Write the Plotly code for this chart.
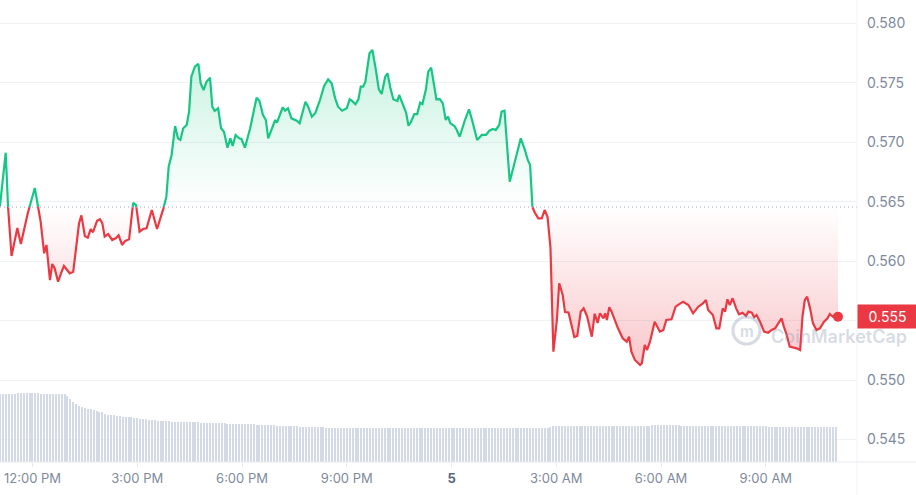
import numpy as np
import pandas as pd
import plotly.graph_objects as go

# ---------------- data ----------------
day4_date = "2024-06-04"
day5_date = "2024-06-05"

day4_times = [
    "11:04", "11:14", "11:18", "11:24", "11:34", "11:40", "11:52", "12:04", "12:14", "12:20",
    "12:24", "12:30", "12:34", "12:38", "12:44", "12:49", "12:54", "13:04", "13:10", "13:20",
    "13:24", "13:30", "13:35", "13:40", "13:44", "13:51", "13:56", "14:00", "14:04", "14:10",
    "14:17", "14:23", "14:28", "14:34", "14:39", "14:46", "14:53", "14:58", "15:04", "15:10",
    "15:16", "15:25", "15:34", "15:45", "15:50", "15:54", "15:59", "16:05", "16:10", "16:14",
    "16:19", "16:25", "16:29", "16:33", "16:39", "16:45", "16:49", "16:54", "16:59", "17:05",
    "17:09", "17:13", "17:19", "17:24", "17:29", "17:35", "17:40", "17:44", "17:49", "17:55",
    "17:59", "18:05", "18:14", "18:25", "18:30", "18:36", "18:41", "18:45", "18:51", "18:57",
    "19:00", "19:10", "19:14", "19:19", "19:25", "19:34", "19:39", "19:49", "19:53", "20:00",
    "20:06", "20:14", "20:21", "20:28", "20:34", "20:40", "20:45", "20:52", "21:00", "21:05",
    "21:09", "21:15", "21:20", "21:24", "21:28", "21:32", "21:39", "21:44", "21:50", "21:55",
    "22:00", "22:06", "22:10", "22:15", "22:20", "22:27", "22:30", "22:37", "22:42", "22:46",
    "22:50", "22:56", "23:01", "23:06", "23:10", "23:16", "23:20", "23:25", "23:29", "23:34",
    "23:40", "23:45", "23:50", "23:54", "23:58",
]
day4_prices = [
    0.56460, 0.56912, 0.56458, 0.56043, 0.56279, 0.56144, 0.56405, 0.56615, 0.56332, 0.56066,
    0.56136, 0.55841, 0.55976, 0.55940, 0.55827, 0.55898, 0.55959, 0.55898, 0.55911, 0.56318,
    0.56385, 0.56211, 0.56197, 0.56270, 0.56243, 0.56340, 0.56352, 0.56318, 0.56206, 0.56228,
    0.56178, 0.56192, 0.56217, 0.56136, 0.56169, 0.56184, 0.56491, 0.56472, 0.56248, 0.56270,
    0.56276, 0.56430, 0.56270, 0.56444, 0.56542, 0.56794, 0.56893, 0.57136, 0.57033, 0.57019,
    0.57117, 0.57145, 0.57257, 0.57551, 0.57635, 0.57658, 0.57495, 0.57439, 0.57509, 0.57543,
    0.57299, 0.57263, 0.57285, 0.57117, 0.57088, 0.56954, 0.57033, 0.56968, 0.57061, 0.57033,
    0.57027, 0.56954, 0.57117, 0.57374, 0.57347, 0.57229, 0.57187, 0.57033, 0.57117, 0.57187,
    0.57164, 0.57294, 0.57265, 0.57285, 0.57201, 0.57181, 0.57159, 0.57341, 0.57305, 0.57215,
    0.57246, 0.57355, 0.57473, 0.57529, 0.57495, 0.57369, 0.57299, 0.57265, 0.57285, 0.57361,
    0.57347, 0.57319, 0.57361, 0.57467, 0.57467, 0.57509, 0.57748, 0.57775, 0.57607, 0.57445,
    0.57406, 0.57551, 0.57580, 0.57453, 0.57361, 0.57347, 0.57397, 0.57299, 0.57248, 0.57139,
    0.57168, 0.57237, 0.57237, 0.57332, 0.57321, 0.57445, 0.57593, 0.57627, 0.57523, 0.57361,
    0.57363, 0.57327, 0.57187, 0.57215, 0.57159,
]

day5_times = [
    "00:05", "00:09", "00:14", "00:23", "00:30", "00:36", "00:44", "00:52", "00:59", "01:05",
    "01:11", "01:16", "01:22", "01:26", "01:31", "01:40", "01:50", "01:59", "02:06", "02:11",
    "02:15", "02:19", "02:23", "02:29", "02:35", "02:40", "02:45", "02:50", "02:52", "02:55",
    "03:01", "03:05", "03:11", "03:15", "03:21", "03:26", "03:31", "03:36", "03:42", "03:47",
    "03:53", "04:01", "04:06", "04:11", "04:15", "04:21", "04:24", "04:27", "04:31", "04:35",
    "04:41", "04:46", "04:54", "05:01", "05:05", "05:09", "05:15", "05:24", "05:27", "05:32",
    "05:36", "05:41", "05:49", "05:58", "06:04", "06:09", "06:18", "06:25", "06:32", "06:38",
    "06:47", "06:55", "07:04", "07:12", "07:17", "07:21", "07:29", "07:35", "07:40", "07:46",
    "07:50", "07:54", "07:58", "08:03", "08:09", "08:14", "08:20", "08:26", "08:30", "08:36",
    "08:40", "08:44", "08:50", "08:57", "09:04", "09:10", "09:16", "09:21", "09:27", "09:31",
    "09:36", "09:41", "09:47", "09:53", "09:59", "10:03", "10:07", "10:11", "10:16", "10:21",
    "10:27", "10:33", "10:40", "10:46", "10:50", "10:55", "10:59", "11:04",
]
day5_prices = [
    0.57136, 0.57103, 0.57046, 0.57187, 0.57277, 0.57173, 0.57019, 0.57061, 0.57061, 0.57097,
    0.57111, 0.57103, 0.57145, 0.57257, 0.57265, 0.56668, 0.56851, 0.57033, 0.56935, 0.56851,
    0.56808, 0.56455, 0.56409, 0.56360, 0.56360, 0.56430, 0.56371, 0.56111, 0.55757, 0.55239,
    0.55505, 0.55814, 0.55715, 0.55572, 0.55568, 0.55477, 0.55362, 0.55371, 0.55575, 0.55603,
    0.55535, 0.55365, 0.55558, 0.55480, 0.55561, 0.55519, 0.55561, 0.55505, 0.55612, 0.55575,
    0.55491, 0.55435, 0.55351, 0.55323, 0.55365, 0.55239, 0.55169, 0.55127, 0.55141, 0.55295,
    0.55253, 0.55323, 0.55491, 0.55407, 0.55421, 0.55505, 0.55511, 0.55617, 0.55640, 0.55659,
    0.55631, 0.55561, 0.55617, 0.55645, 0.55673, 0.55589, 0.55547, 0.55435, 0.55435, 0.55603,
    0.55575, 0.55679, 0.55631, 0.55688, 0.55603, 0.55553, 0.55566, 0.55539, 0.55575, 0.55566,
    0.55528, 0.55547, 0.55491, 0.55407, 0.55398, 0.55421, 0.55435, 0.55477, 0.55519, 0.55449,
    0.55379, 0.55281, 0.55275, 0.55267, 0.55253, 0.55533, 0.55673, 0.55701, 0.55603, 0.55477,
    0.55421, 0.55435, 0.55491, 0.55519, 0.55556, 0.55533, 0.55547, 0.55533,
]

baseline_price = 0.56455          # price 24h ago (dotted reference line)
last_price_label = "0.555"

# 24h rolling volume (millions USD), one bar every 5 minutes from 11:05
volume_start = "2024-06-04 11:05"
volume_step_minutes = 5
volume_24h = [
    102.6, 102.6, 102.6, 102.6, 102.6, 102.6, 104.0, 104.0, 104.0, 104.0, 104.0, 104.0,
    104.0, 104.0, 102.6, 102.6, 102.6, 102.6, 102.6, 102.6, 102.6, 102.6, 102.6, 100.5,
    95.4, 91.4, 87.9, 85.3, 83.8, 82.3, 80.3, 79.8, 78.3, 76.8, 75.8, 75.3,
    72.7, 71.7, 70.7, 70.7, 70.2, 69.2, 68.7, 68.2, 67.7, 67.7, 66.7, 66.2,
    65.2, 65.2, 64.6, 63.6, 63.1, 63.1, 62.1, 61.5, 61.5, 61.5, 61.5, 61.0,
    61.0, 61.0, 60.5, 60.5, 60.5, 60.0, 60.0, 60.0, 60.0, 59.5, 59.5, 59.0,
    59.0, 59.0, 59.0, 58.5, 58.5, 58.5, 58.0, 58.0, 58.0, 58.0, 58.0, 57.5,
    57.5, 57.0, 57.0, 57.0, 56.5, 56.5, 56.0, 56.0, 56.0, 55.5, 55.5, 55.0,
    55.0, 54.5, 54.5, 54.5, 54.0, 54.0, 54.0, 53.5, 53.5, 53.5, 53.0, 53.0,
    53.0, 52.5, 52.5, 52.5, 52.0, 52.0, 52.0, 52.0, 51.5, 51.5, 51.5, 51.5,
    51.5, 51.0, 51.0, 51.0, 51.0, 51.0, 51.0, 51.0, 51.0, 51.0, 51.0, 51.0,
    51.0, 51.0, 51.0, 51.0, 51.0, 51.0, 51.0, 51.0, 51.0, 51.0, 51.0, 51.0,
    51.0, 51.0, 51.0, 51.0, 51.0, 51.0, 51.0, 51.0, 51.0, 51.0, 51.0, 51.0,
    51.0, 51.0, 51.0, 51.0, 51.0, 51.0, 51.0, 51.0, 51.0, 51.0, 51.0, 51.0,
    51.0, 51.0, 51.0, 51.0, 51.0, 51.0, 51.0, 51.0, 51.0, 51.0, 51.0, 51.0,
    51.0, 51.0, 51.0, 51.0, 51.0, 51.0, 51.0, 51.0, 52.0, 53.0, 54.0, 54.5,
    54.5, 54.5, 54.5, 54.5, 54.5, 54.5, 54.5, 54.5, 54.5, 54.5, 54.5, 54.5,
    54.5, 54.5, 54.5, 54.5, 54.5, 54.5, 54.5, 54.5, 54.5, 54.5, 54.5, 54.5,
    54.5, 54.5, 54.5, 54.5, 54.5, 54.5, 54.5, 54.5, 56.0, 56.0, 56.0, 56.0,
    56.0, 56.0, 56.0, 56.0, 56.0, 56.0, 55.0, 55.0, 55.0, 55.0, 55.0, 55.0,
    55.0, 55.0, 55.0, 55.0, 55.0, 55.0, 55.0, 55.0, 55.0, 55.0, 55.0, 55.0,
    55.0, 55.0, 55.0, 55.0, 55.0, 55.0, 54.5, 54.5, 54.5, 54.5, 54.5, 54.5,
    52.5, 52.5, 52.5, 52.5, 52.5, 52.5, 52.5, 52.5, 52.5, 52.5, 52.5, 52.5,
    52.5, 52.5, 52.5, 52.5, 52.5, 52.5, 52.5, 52.5, 52.5, 52.5, 52.5, 52.5,
]

x_tick_vals = ["2024-06-04 12:00", "2024-06-04 15:00", "2024-06-04 18:00", "2024-06-04 21:00",
               "2024-06-05 00:00", "2024-06-05 03:00", "2024-06-05 06:00", "2024-06-05 09:00"]
x_tick_text = ["12:00 PM", "3:00 PM", "6:00 PM", "9:00 PM",
               "<span style='color:#58667e'><b>5</b></span>", "3:00 AM", "6:00 AM", "9:00 AM"]
y_tick_vals = [0.545, 0.550, 0.555, 0.560, 0.565, 0.570, 0.575, 0.580]
# the 0.555 label sits under the live-price tag in the original, so it is left blank
y_tick_text = ["0.545", "0.550", "", "0.560", "0.565", "0.570", "0.575", "0.580"]

# ---------------- styling ----------------
GREEN = "#16c784"
RED = "#ea3943"
AXIS_TXT = "#808a9d"
GRID = "#eff2f5"
FONT = "Inter"
WATERMARK = "rgba(140,152,178,0.35)"

W, H = 916, 495
ML, MR, MT, MB = 0, 59, 0, 33
PW, PH = W - ML - MR, H - MT - MB

# ---------------- build series ----------------
t = pd.to_datetime([f"{day4_date} {s}" for s in day4_times] +
                   [f"{day5_date} {s}" for s in day5_times])
p = np.array(day4_prices + day5_prices)

# split line into above/below-baseline pieces at the crossing points
xs = [t[0]]
ys = [p[0]]
for i in range(1, len(p)):
    d0 = p[i - 1] - baseline_price
    d1 = p[i] - baseline_price
    if d0 * d1 < 0:
        f = d0 / (d0 - d1)
        xs.append(t[i - 1] + (t[i] - t[i - 1]) * f)
        ys.append(baseline_price)
    xs.append(t[i])
    ys.append(p[i])
ys = np.array(ys)
up_fill = np.maximum(ys, baseline_price)
dn_fill = np.minimum(ys, baseline_price)
green_line = [y if y >= baseline_price else None for y in ys]
red_line = [y if y <= baseline_price else None for y in ys]
base_arr = [baseline_price] * len(xs)

vol_t = pd.date_range(volume_start, periods=len(volume_24h), freq=f"{volume_step_minutes}min")

fig = go.Figure()

# volume bars (own hidden axis)
fig.add_trace(go.Bar(
    x=vol_t, y=volume_24h, yaxis="y2",
    marker=dict(color="#d3d9e5", line=dict(width=0)),
    width=105000, hoverinfo="skip", showlegend=False,
))

# green area
fig.add_trace(go.Scatter(x=xs, y=base_arr, mode="lines", line=dict(width=0),
                         hoverinfo="skip", showlegend=False))
fig.add_trace(go.Scatter(
    x=xs, y=up_fill, mode="lines", line=dict(width=0), fill="tonexty",
    fillgradient=dict(type="vertical", start=baseline_price, stop=float(p.max()),
                      colorscale=[[0, "rgba(22,199,132,0.0)"], [1, "rgba(22,199,132,0.24)"]]),
    hoverinfo="skip", showlegend=False))

# red area
fig.add_trace(go.Scatter(x=xs, y=base_arr, mode="lines", line=dict(width=0),
                         hoverinfo="skip", showlegend=False))
fig.add_trace(go.Scatter(
    x=xs, y=dn_fill, mode="lines", line=dict(width=0), fill="tonexty",
    fillgradient=dict(type="vertical", start=float(p.min()), stop=baseline_price,
                      colorscale=[[0, "rgba(234,57,67,0.28)"], [1, "rgba(234,57,67,0.0)"]]),
    hoverinfo="skip", showlegend=False))

# price lines
fig.add_trace(go.Scatter(x=xs, y=green_line, mode="lines",
                         line=dict(color=GREEN, width=2.2), connectgaps=False,
                         hoverinfo="skip", showlegend=False))
fig.add_trace(go.Scatter(x=xs, y=red_line, mode="lines",
                         line=dict(color=RED, width=2.2), connectgaps=False,
                         hoverinfo="skip", showlegend=False))

# last-price dot
fig.add_trace(go.Scatter(x=[t[-1]], y=[p[-1]], mode="markers",
                         marker=dict(color=RED, size=10), cliponaxis=False,
                         hoverinfo="skip", showlegend=False))


def px_x(x):
    return (x - ML) / PW


def px_y(y):
    return 1 - (y - MT) / PH


shapes = [
    # dotted baseline
    dict(type="line", xref="paper", yref="y", x0=0, x1=1, y0=baseline_price, y1=baseline_price,
         line=dict(color="#a1a7bb", width=1, dash="1px,3px"), layer="above"),
    # bottom axis line across full width
    dict(type="line", xref="paper", yref="paper", x0=0, x1=W / PW, y0=0, y1=0,
         line=dict(color="#e6e9ee", width=1), layer="above"),
    # right plot border
    dict(type="line", xref="paper", yref="paper", x0=1, x1=1, y0=-MB / PH, y1=1,
         line=dict(color="#eff2f5", width=1), layer="above"),
    # watermark logo ring
    dict(type="circle", xref="paper", yref="paper",
         x0=px_x(733), x1=px_x(760), y0=px_y(344), y1=px_y(317),
         line=dict(color=WATERMARK, width=3.2), layer="above"),
]

annotations = [
    dict(xref="paper", yref="paper", x=px_x(769), y=px_y(336), xanchor="left", yanchor="middle",
         text="CoinMarketCap", showarrow=False,
         font=dict(family=FONT, size=18, color=WATERMARK, weight=600)),
    dict(xref="paper", yref="paper", x=px_x(746.5), y=px_y(331), xanchor="center", yanchor="middle",
         text="m", showarrow=False,
         font=dict(family=FONT, size=15, color=WATERMARK, weight=700)),
    # last price tag
    dict(xref="paper", yref="y", x=1, y=float(p[-1]), xanchor="left", yanchor="middle",
         text=last_price_label, showarrow=False, bgcolor=RED, width=55, height=19, borderpad=2,
         align="center", font=dict(family=FONT, size=14, color="white")),
]

fig.update_layout(
    width=W, height=H,
    margin=dict(l=ML, r=MR, t=MT, b=MB, autoexpand=False),
    paper_bgcolor="white", plot_bgcolor="white",
    showlegend=False,
    bargap=0,
    xaxis=dict(
        type="date",
        range=["2024-06-04 11:04:10", "2024-06-05 11:36:40"],
        tickmode="array", tickvals=x_tick_vals, ticktext=x_tick_text,
        showgrid=False, zeroline=False, showline=False,
        ticks="outside", ticklen=4, tickcolor="#e6e9ee",
        tickfont=dict(family=FONT, size=13, color=AXIS_TXT),
        fixedrange=True,
    ),
    yaxis=dict(
        side="right",
        range=[0.54311, 0.58196],
        tickmode="array", tickvals=y_tick_vals, ticktext=y_tick_text,
        showgrid=True, gridcolor=GRID, gridwidth=1,
        zeroline=False, showline=False, ticks="",
        ticklabelstandoff=9,
        tickfont=dict(family=FONT, size=14, color=AXIS_TXT),
        fixedrange=True,
    ),
    yaxis2=dict(overlaying="y", range=[0, 700], visible=False, fixedrange=True),
    shapes=shapes,
    annotations=annotations,
)

fig.write_html("out.html", config={"displayModeBar": False},
               post_script="document.body.style.margin='0px';")
